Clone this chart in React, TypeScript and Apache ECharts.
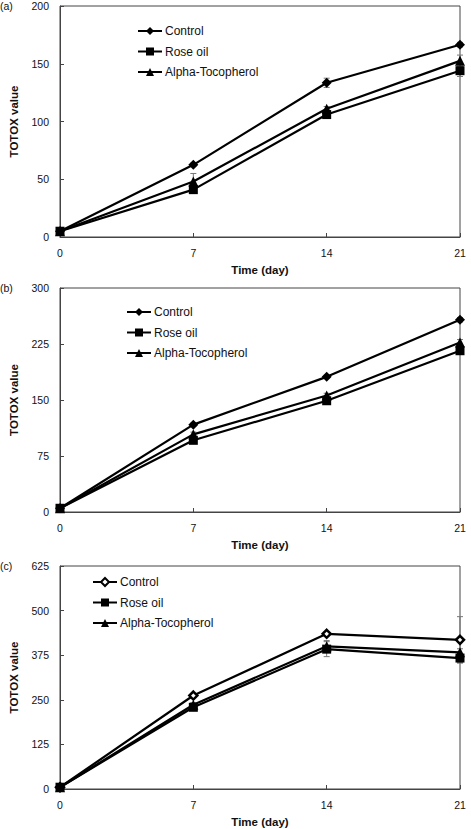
import React, { useEffect, useRef } from "react";
import * as echarts from "echarts";

const days = [0, 7, 14, 21];
const seriesNames = ["Control", "Rose oil", "Alpha-Tocopherol"];

// Panel (a)
const aControl = [5, 62.5, 133.5, 166.5];
const aRose = [5, 41, 106, 144];
const aAlpha = [5, 48, 111, 152.5];
const aControlErr = [0, 1.5, 4, 2];
const aRoseErr = [0, 2, 2, 5];
const aAlphaErr = [0, 7, 2, 5];

// Panel (b)
const bControl = [5, 117, 181, 257.5];
const bRose = [5, 96, 149, 216];
const bAlpha = [5, 104, 156, 227];
const bControlErr = [0, 2, 2, 3];
const bRoseErr = [0, 2, 3, 4];
const bAlphaErr = [0, 3, 3, 4];

// Panel (c)
const cControl = [5, 262, 435, 418];
const cRose = [5, 229, 392, 367];
const cAlpha = [5, 236, 400, 383];
const cControlErr = [0, 6, 6, 65];
const cRoseErr = [0, 6, 21, 13];
const cAlphaErr = [0, 6, 16, 10];

const yMax = [200, 300, 625];
const yInterval = [50, 75, 125];
const panelLabels = ["(a)", "(b)", "(c)"];

const FONT = "Liberation Sans, Arial, sans-serif";

export default function App() {
  const ref = useRef<HTMLDivElement>(null);
  useEffect(() => {
    document.body.style.margin = "0";
    if (!ref.current) return;
    const chart = echarts.init(ref.current, undefined, { renderer: "svg" });

    const panels = [
      { vals: [aControl, aRose, aAlpha], errs: [aControlErr, aRoseErr, aAlphaErr], hollow: false },
      { vals: [bControl, bRose, bAlpha], errs: [bControlErr, bRoseErr, bAlphaErr], hollow: false },
      { vals: [cControl, cRose, cAlpha], errs: [cControlErr, cRoseErr, cAlphaErr], hollow: true },
    ];
    const grids = [
      { left: 54, right: 11, top: 6, height: 231 },
      { left: 54, right: 11, top: 288, height: 224 },
      { left: 54, right: 11, top: 566, height: 225 },
    ];
    const legendPos = [
      { left: 137, top: 25 },
      { left: 126, top: 306 },
      { left: 92, top: 576 },
    ];
    const symbols = ["diamond", "rect", "triangle"];
    const symbolSizes = [10, 9, 10];

    const series: any[] = [];
    const legends: any[] = [];
    panels.forEach((p, pi) => {
      const names: string[] = [];
      p.vals.forEach((vals, si) => {
        const name = panelLabels[pi] + "|" + seriesNames[si];
        names.push(name);
        const errs = p.errs[si];
        series.push({
          type: "custom",
          xAxisIndex: pi,
          yAxisIndex: pi,
          silent: true,
          z: 1,
          data: days.map((d, i) => [d, vals[i] - errs[i], vals[i] + errs[i]]),
          renderItem: (params: any, api: any) => {
            const x = api.value(0);
            const lo = api.coord([x, api.value(1)]);
            const hi = api.coord([x, api.value(2)]);
            const w = 3;
            return {
              type: "group",
              children: [
                { type: "line", shape: { x1: lo[0], y1: lo[1], x2: hi[0], y2: hi[1] }, style: { stroke: "#777", lineWidth: 1 } },
                { type: "line", shape: { x1: lo[0] - w, y1: lo[1], x2: lo[0] + w, y2: lo[1] }, style: { stroke: "#777", lineWidth: 1 } },
                { type: "line", shape: { x1: hi[0] - w, y1: hi[1], x2: hi[0] + w, y2: hi[1] }, style: { stroke: "#777", lineWidth: 1 } },
              ],
            };
          },
        });
        const hollow = p.hollow && si === 0;
        series.push({
          type: "line",
          name,
          xAxisIndex: pi,
          yAxisIndex: pi,
          data: days.map((d, i) => [d, vals[i]]),
          symbol: symbols[si],
          symbolSize: hollow ? 8 : symbolSizes[si],
          showAllSymbol: true,
          z: 3,
          lineStyle: { color: "#000", width: 2.2 },
          itemStyle: hollow
            ? { color: "#fff", borderColor: "#000", borderWidth: 2.5 }
            : { color: "#000", borderColor: "#000", borderWidth: 0 },
          emphasis: { disabled: true },
        });
      });
      legends.push({
        ...legendPos[pi],
        orient: "vertical",
        itemWidth: 24,
        itemHeight: 10,
        itemGap: 8.5,
        padding: 0,
        data: names,
        formatter: (n: string) => n.split("|")[1],
        textStyle: { fontFamily: FONT, fontSize: 12, color: "#111", padding: [0, 0, 0, -2] },
        selectedMode: false,
      });
    });

    const option: any = {
      animation: false,
      backgroundColor: "#fff",
      grid: grids.map((g) => ({ ...g, show: true, borderColor: "#444", borderWidth: 1, containLabel: false })),
      legend: legends,
      xAxis: grids.map((_, i) => ({
        type: "value",
        gridIndex: i,
        min: 0,
        max: 21,
        interval: 7,
        name: "Time (day)",
        nameLocation: "middle",
        nameGap: 27,
        nameTextStyle: { fontFamily: FONT, fontSize: 11.5, fontWeight: "bold", color: "#111" },
        axisLine: { lineStyle: { color: "#444", width: 1 } },
        axisTick: { inside: true, length: 4, lineStyle: { color: "#444" } },
        axisLabel: { fontFamily: FONT, fontSize: 10.5, color: "#111", margin: 10 },
        splitLine: { show: false },
      })),
      yAxis: grids.map((_, i) => ({
        type: "value",
        gridIndex: i,
        min: 0,
        max: yMax[i],
        interval: yInterval[i],
        name: "TOTOX value",
        nameLocation: "middle",
        nameGap: 40,
        nameTextStyle: { fontFamily: FONT, fontSize: 11.5, fontWeight: "bold", color: "#111" },
        axisLine: { show: true, lineStyle: { color: "#444", width: 1 } },
        axisTick: { show: true, inside: true, length: 4, lineStyle: { color: "#444" } },
        axisLabel: { fontFamily: FONT, fontSize: 10.5, color: "#111", margin: 11 },
        splitLine: { show: false },
      })),
      graphic: panelLabels.map((t, i) => ({
        type: "text",
        left: 0,
        top: [0, 282, 560][i],
        style: { text: t, fontFamily: FONT, fontSize: 10.5, fill: "#111" },
      })),
      series,
    };
    chart.setOption(option);
    return () => chart.dispose();
  }, []);
  return <div ref={ref} style={{ width: 471, height: 829 }} />;
}
